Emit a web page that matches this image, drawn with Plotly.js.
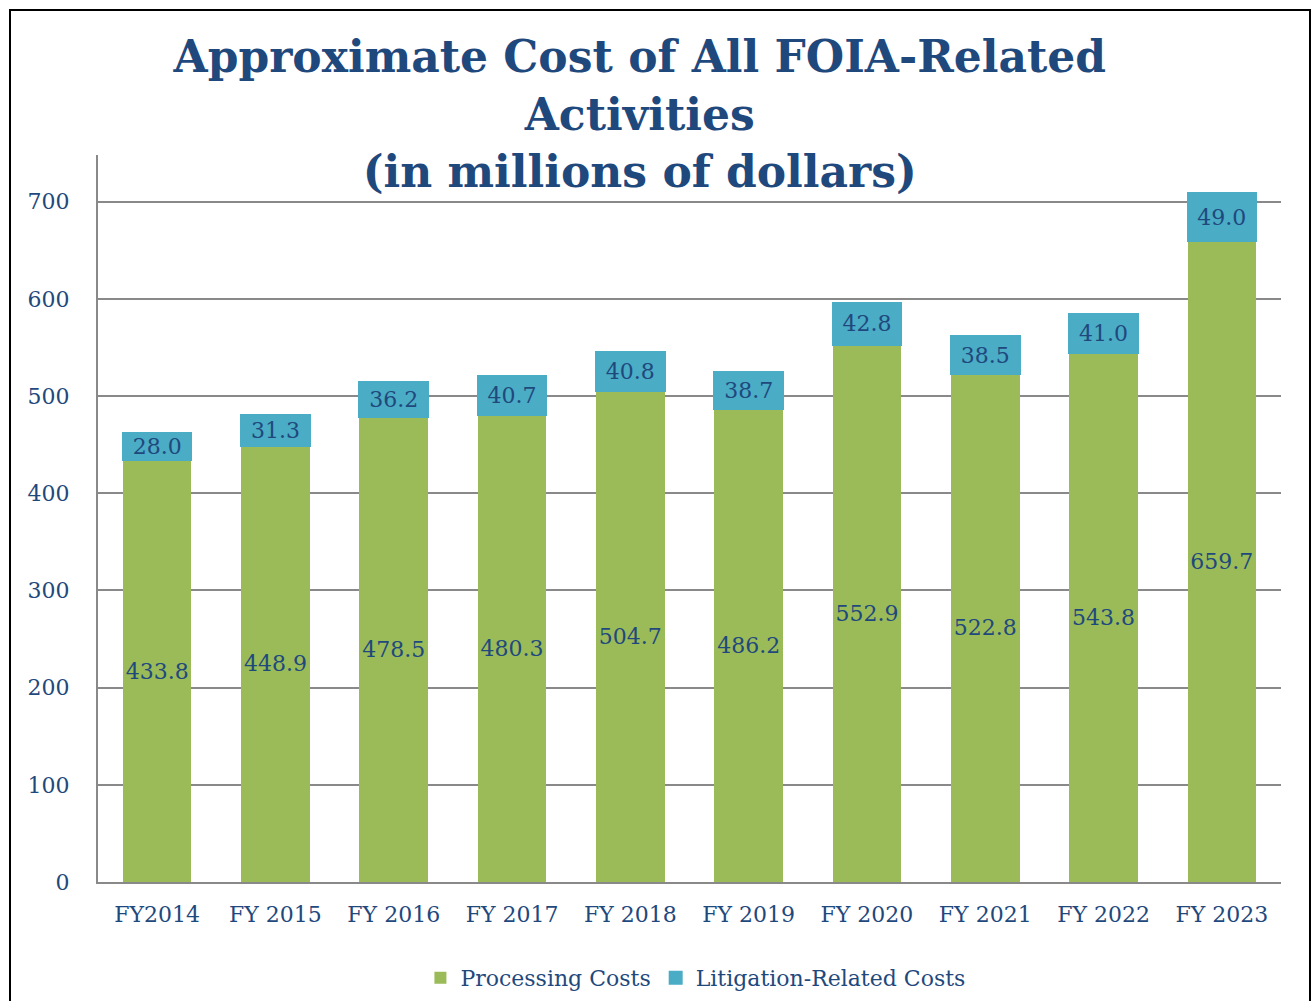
<!DOCTYPE html>
<html>
<head>
<meta charset="utf-8">
<script src="https://cdn.plot.ly/plotly-3.0.1.min.js"></script>
<style>
  body { margin: 0; background: #fff; overflow: hidden; }
  #wrap { position: relative; width: 1311px; height: 1005px; overflow: hidden; }
  #plot { position: absolute; left: 0; top: 0; width: 1311px; height: 1005px; }
  #frame { position: absolute; left: 9px; top: 9px; width: 1298px; height: 990px;
           border: 2px solid #000; border-bottom: none; pointer-events: none; }
</style>
</head>
<body>
<div id="wrap">
  <div id="plot"></div>
  <div id="frame"></div>
</div>
<script>
const years = ["FY2014", "FY 2015", "FY 2016", "FY 2017", "FY 2018",
               "FY 2019", "FY 2020", "FY 2021", "FY 2022", "FY 2023"];
const processing = [433.8, 448.9, 478.5, 480.3, 504.7, 486.2, 552.9, 522.8, 543.8, 659.7];
const litigation = [28.0, 31.3, 36.2, 40.7, 40.8, 38.7, 42.8, 38.5, 41.0, 49.0];
const yTicks = [0, 100, 200, 300, 400, 500, 600, 700];

const navy = "#1F497D";
const serif = "DejaVu Serif, Liberation Serif, serif";

const traces = [
  {
    type: "bar", name: "Processing Costs",
    x: years, y: processing,
    text: processing.map(v => v.toFixed(1)),
    textposition: "inside", insidetextanchor: "middle", constraintext: "none",
    textangle: 0,
    textfont: { family: serif, size: 22, color: navy },
    marker: { color: "#9BBB59" },
    hoverinfo: "skip"
  },
  {
    type: "bar", name: "Litigation-Related Costs",
    x: years, y: litigation,
    text: litigation.map(v => v.toFixed(1)),
    textposition: "inside", insidetextanchor: "middle", constraintext: "none",
    textangle: 0,
    textfont: { family: serif, size: 22, color: navy },
    marker: { color: "#4BACC6", line: { color: "#4BACC6", width: 2 } },
    hoverinfo: "skip"
  }
];

const layout = {
  width: 1311, height: 1005,
  paper_bgcolor: "#fff", plot_bgcolor: "#fff",
  margin: { l: 98, r: 30, t: 155, b: 123, autoexpand: false },
  barmode: "stack", bargap: 0.42,
  title: {
    text: "Approximate Cost of All FOIA-Related<br>Activities<br>(in millions of dollars)",
    font: { family: serif, size: 44, color: navy, weight: "bold" },
    xref: "container", yref: "container",
    x: 0.488, y: 0.928, xanchor: "center", yanchor: "middle"
  },
  font: { family: serif, color: navy },
  xaxis: {
    tickfont: { family: serif, size: 22, color: navy },
    showline: true, linecolor: "#898989", linewidth: 2,
    ticks: "outside", ticklen: 12, tickcolor: "rgba(0,0,0,0)",
    showgrid: false, automargin: false
  },
  yaxis: {
    range: [0, 748], tickvals: yTicks,
    tickfont: { family: serif, size: 22, color: navy },
    showline: true, linecolor: "#898989", linewidth: 2,
    gridcolor: "#898989", gridwidth: 2,
    zeroline: false, automargin: false,
    ticks: "outside", ticklen: 22, tickcolor: "rgba(0,0,0,0)"
  },
  showlegend: true,
  legend: {
    orientation: "h", x: 0.505, xanchor: "center", y: -0.132, yanchor: "middle",
    font: { family: serif, size: 22, color: navy },
    traceorder: "normal", itemwidth: 30
  }
};

Plotly.newPlot("plot", traces, layout, { displayModeBar: false, staticPlot: true });
</script>
</body>
</html>
